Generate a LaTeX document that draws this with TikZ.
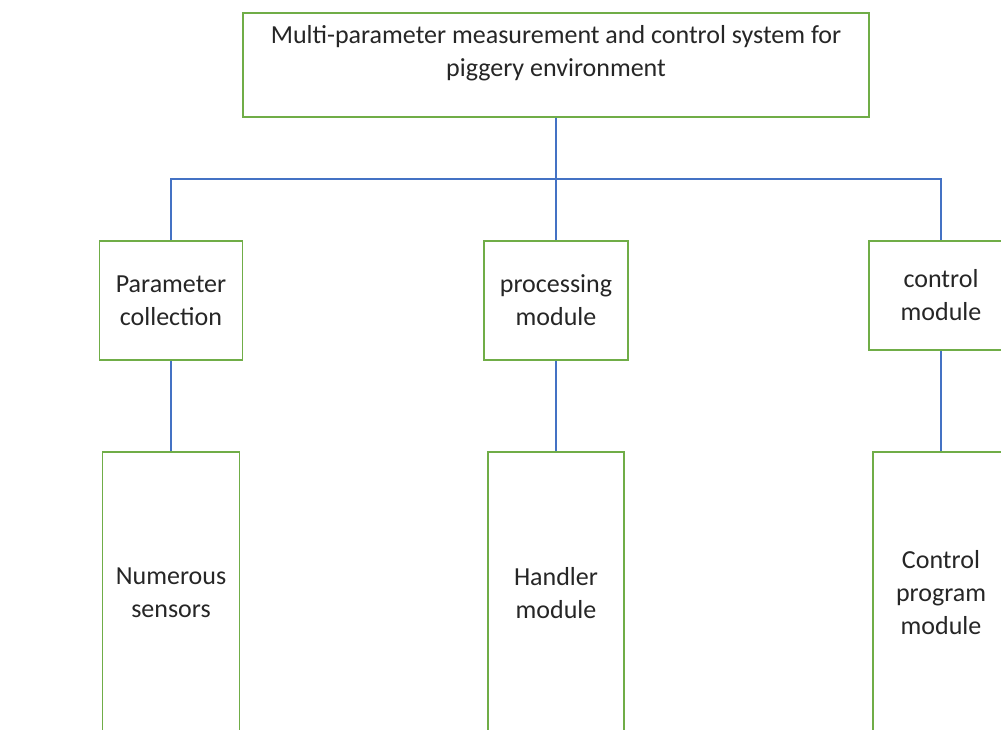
\documentclass[tikz,border=0pt]{standalone}
\usepackage{fontspec}
\setmainfont{Carlito}
\usetikzlibrary{positioning}

\begin{document}
\begin{tikzpicture}[x=1pt, y=-1pt,
  box/.style={draw=boxgreen, line width=1.1pt, fill=white, align=center, inner sep=0pt,
    font=\fontsize{26}{33}\selectfont, text=black!85},
  wire/.style={draw=wireblue, line width=1.2pt}]
  \definecolor{boxgreen}{RGB}{112,173,71}
  \definecolor{wireblue}{RGB}{68,114,196}

  \useasboundingbox (0,0) rectangle (1001,729);
  \clip (0,0) rectangle (1001,729);

  % top level
  \node[box, minimum width=626pt, minimum height=104pt] (top) at (556,65)
    {Multi-parameter measurement and control system for\\piggery environment\\[-4pt] \mbox{}};
  \coordinate (bus) at (556,179);

  % second level
  \node[box, minimum width=143pt, minimum height=119pt] (pc) at (171,300.5) {Parameter\\collection};
  \node[box, minimum width=144pt, minimum height=119pt] (pm) at (556,300.5) {processing\\module};
  \node[box, minimum width=144pt, minimum height=109pt] (cm) at (941,295.5) {control\\module};

  % third level
  \node[box, minimum width=137pt, minimum height=282pt] (ns) at (171,593) {Numerous\\sensors};
  \node[box, minimum width=136pt, minimum height=282pt] (hm) at (556,593) {Handler\\module};
  \node[box, minimum width=136pt, minimum height=282pt] (cp) at (941,593) {Control\\program\\module};

  \draw[wire] (top) -- (bus);
  \draw[wire] (pc.north) |- (bus) -| (cm.north);
  \draw[wire] (bus) -- (pm.north);
  \draw[wire] (pc) -- (ns);
  \draw[wire] (pm) -- (hm);
  \draw[wire] (cm) -- (cp);
\end{tikzpicture}
\end{document}
